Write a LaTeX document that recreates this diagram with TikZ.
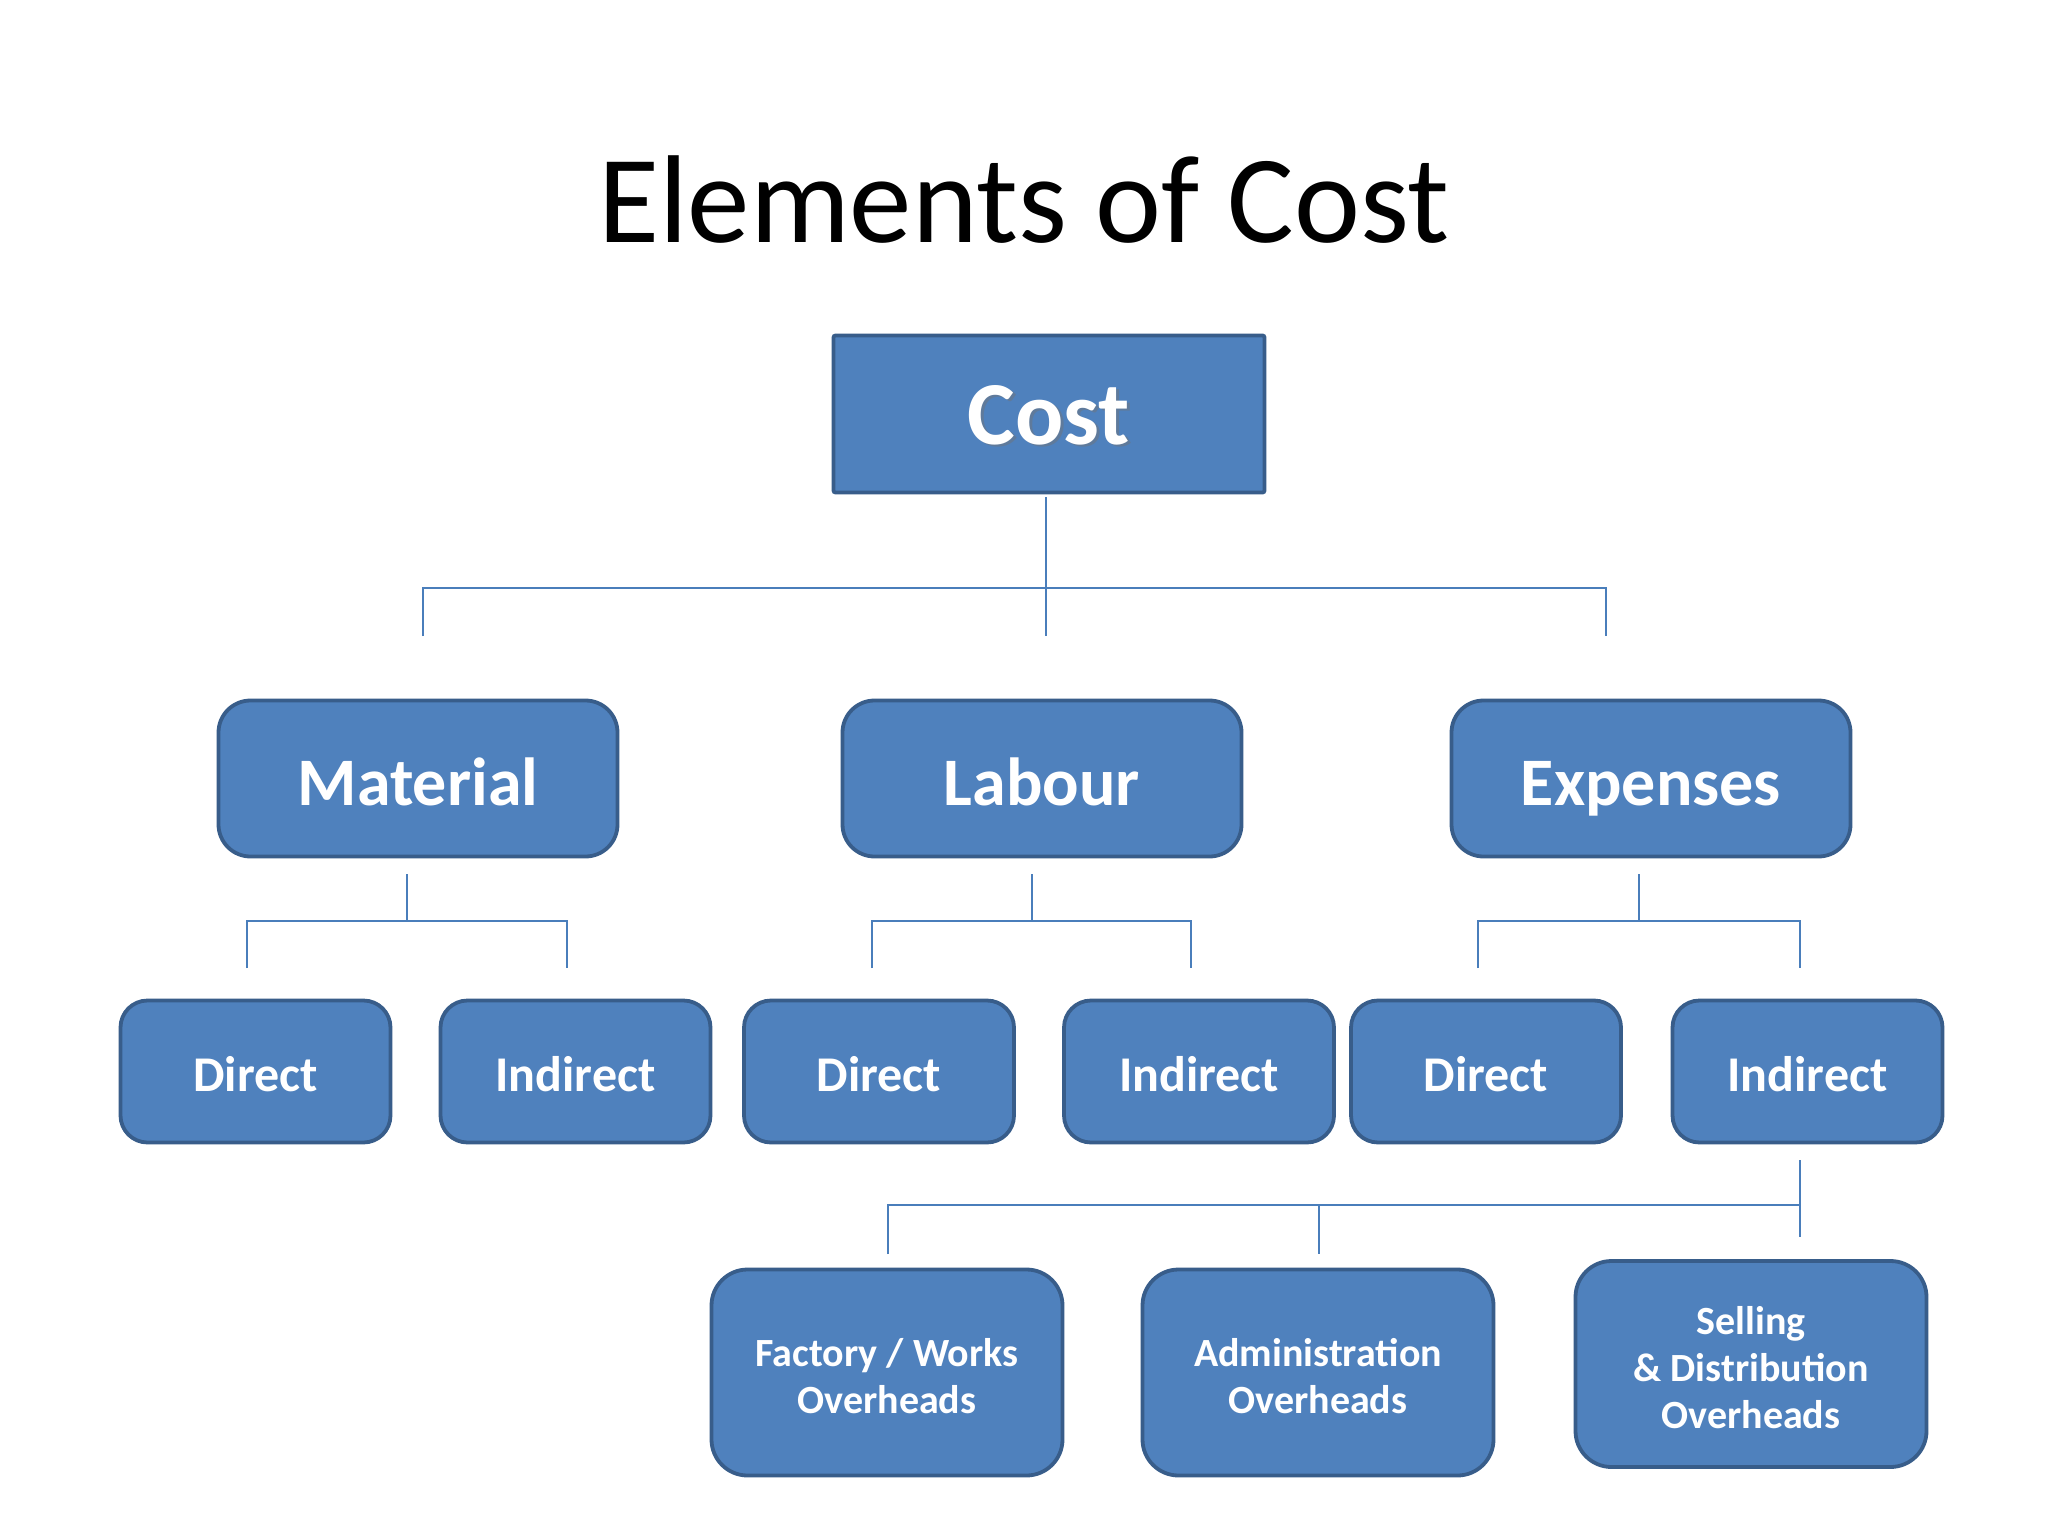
\documentclass[tikz,border=0pt]{standalone}
\usepackage{fontspec}
\setmainfont{Carlito}
\definecolor{boxfill}{HTML}{4F81BD}
\definecolor{boxline}{HTML}{385D8A}
\definecolor{conncol}{HTML}{4A7EBB}
\begin{document}
\begin{tikzpicture}[x=1pt,y=-1pt,
  box/.style={draw=boxline,fill=boxfill,line width=3.8pt,text=white,inner sep=0pt,align=center,font=\bfseries},
  topbox/.style={box,rounded corners=2pt,minimum width=431pt,minimum height=157pt},
  midbox/.style={box,rounded corners=32pt,minimum width=399pt,minimum height=156pt,font=\bfseries\fontsize{68}{80}\selectfont,text height=54pt,text depth=0pt},
  leafbox/.style={box,rounded corners=27pt,minimum width=270pt,minimum height=142pt,font=\bfseries\fontsize{50}{60}\selectfont,text height=40pt,text depth=0pt},
  ohbox/.style={box,rounded corners=36pt,minimum width=351pt,minimum height=206pt},
  ohtext/.style={text=white,inner sep=0pt,align=center,font=\bfseries\fontsize{40}{47}\selectfont},
  conn/.style={draw=conncol,line width=2.2pt}]
\useasboundingbox (0,0) rectangle (2048,1536);
\fill[white] (0,0) rectangle (2048,1536);

% title
\node[font=\fontsize{125}{140}\selectfont,anchor=base] (title) at (1024,242) {Elements of Cost};

% root
\node[topbox] (cost) at (1049,414) {};
\node[font=\bfseries\fontsize{90}{100}\selectfont,text=black!55,opacity=0.45] (costshadow) at (1051.5,417.5) {Cost};
\node[font=\bfseries\fontsize{90}{100}\selectfont,text=white] (costtext) at (1049,415) {Cost};

% level 2
\node[midbox] (material) at (418,778.5) {Material};
\node[midbox] (labour) at (1042,778.5) {Labour};
\node[midbox] (expenses) at (1651,778.5) {Expenses};

% level 3
\node[leafbox] (md) at (255.5,1071.5) {Direct};
\node[leafbox] (mi) at (575.5,1071.5) {Indirect};
\node[leafbox] (ld) at (879,1071.5) {Direct};
\node[leafbox] (li) at (1199,1071.5) {Indirect};
\node[leafbox] (ed) at (1486,1071.5) {Direct};
\node[leafbox] (ei) at (1807.5,1071.5) {Indirect};

% level 4
\node[ohbox] (factory) at (887,1372.5) {};
\node[ohbox] (admin) at (1318,1372.5) {};
\node[ohbox] (selling) at (1751,1364) {};
\node[ohtext] (factorytext) at ([yshift=-4pt]factory.center) {Factory / Works\\Overheads};
\node[ohtext] (admintext) at ([yshift=-4pt]admin.center) {Administration\\Overheads};
\node[ohtext] (sellingtext) at ([yshift=-4pt]selling.center) {Selling\\\& Distribution\\Overheads};

% connector points
\coordinate (c0) at (1046,497);
\coordinate (c1) at (1046,636);
\coordinate (cl) at (423,588);
\coordinate (cr) at (1606,588);
\coordinate (cle) at (423,636);
\coordinate (cre) at (1606,636);
\draw[conn] (c0) -- (c1);
\draw[conn] (cle) -- (cl) -- (cr) -- (cre);

% material
\coordinate (m0) at (407,874);
\coordinate (mj) at (407,921);
\coordinate (ml) at (247,921);
\coordinate (mr) at (567,921);
\draw[conn] (m0) -- (mj);
\draw[conn] (ml |- 0,968) -- (ml) -- (mr) -- (mr |- 0,968);

% labour
\coordinate (l0) at (1032,874);
\coordinate (lj) at (1032,921);
\coordinate (ll) at (872,921);
\coordinate (lr) at (1191,921);
\draw[conn] (l0) -- (lj);
\draw[conn] (ll |- 0,968) -- (ll) -- (lr) -- (lr |- 0,968);

% expenses
\coordinate (e0) at (1639,874);
\coordinate (ej) at (1639,921);
\coordinate (el) at (1478,921);
\coordinate (er) at (1800,921);
\draw[conn] (e0) -- (ej);
\draw[conn] (el |- 0,968) -- (el) -- (er) -- (er |- 0,968);

% overheads
\coordinate (o0) at (1800,1160);
\coordinate (o1) at (1800,1237);
\coordinate (oj) at (1800,1205);
\coordinate (ol) at (888,1205);
\coordinate (om) at (1319,1205);
\draw[conn] (o0) -- (o1);
\draw[conn] (ol |- 0,1254) -- (ol) -- (oj);
\draw[conn] (om) -- (om |- 0,1254);
\end{tikzpicture}
\end{document}
